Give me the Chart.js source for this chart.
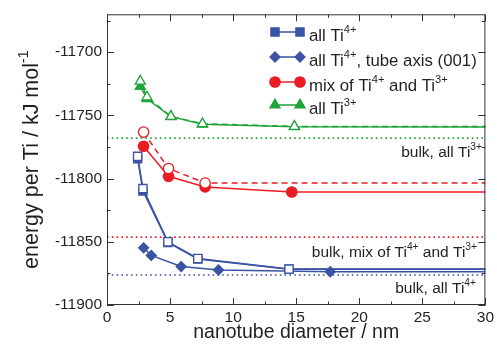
<!DOCTYPE html>
<html><head><meta charset="utf-8">
<script src="https://cdn.jsdelivr.net/npm/chart.js@4/dist/chart.umd.min.js"></script>
<style>html,body{margin:0;padding:0;background:#fff}#wrap{width:497px;height:347px}</style>
</head><body><div id="wrap"><canvas id="c" width="497" height="347"></canvas></div>
<script>
// ---- data ----
const xTicks = [0, 5, 10, 15, 20, 25, 30];
const yTicks = [-11900, -11850, -11800, -11750, -11700];

const blueSqX = [2.43, 2.85, 4.83, 7.2, 14.43, 40];
const blueSqFilledY = [-11784.2, -11809.8, -11850.5, -11863.6, -11871.8, -11871.8];
const blueSqOpenY   = [-11782.4, -11807.9, -11850.0, -11863.2, -11871.6, -11871.6];

const blueDiaX = [2.9, 3.51, 5.88, 8.84, 17.7, 40];
const blueDiaY = [-11854.8, -11860.8, -11869.6, -11872.3, -11873.7, -11873.7];

const redFilledX = [2.9, 4.88, 7.78, 14.65, 40];
const redFilledY = [-11774.4, -11798.2, -11806.6, -11810.6, -11810.6];
const redOpenX = [2.9, 4.88, 7.78, 40];
const redOpenY = [-11763.2, -11792.0, -11803.5, -11803.5];

const greenX = [2.64, 3.17, 5.07, 7.57, 14.86, 40];
const greenFilledY = [-11727.0, -11736.8, -11751.0, -11757.0, -11759.0, -11759.2];
const greenOpenY   = [-11722.9, -11735.5, -11750.8, -11756.6, -11758.7, -11758.9];

const bulkX = [0, 30];
const bulkTi3 = -11768;
const bulkMix = -11846.3;
const bulkTi4 = -11876.3;

const legendLabels = [
  [["all Ti",0],["4+",1]],
  [["all Ti",0],["4+",1],[", tube axis (001)",0]],
  [["mix of Ti",0],["4+",1],[" and Ti",0],["3+",1]],
  [["all Ti",0],["3+",1]]
];
const bulkLabels = [
  [["bulk, all Ti",0],["3+",1]],
  [["bulk, mix of Ti",0],["4+",1],[" and Ti",0],["3+",1]],
  [["bulk, all Ti",0],["4+",1]]
];
const xTitle = "nanotube diameter / nm";
const yTitle = [["energy per Ti / kJ mol",0],["-1",1]];

// ---- styles ----
const BLUE = '#3a53a4', RED = '#ec1c24', GREEN = '#1fa33a', TXT = '#231f20';
const FONT = '"Liberation Sans", Arial, Helvetica, sans-serif';

const pts = (xs, ys) => xs.map((x, i) => ({x, y: ys[i]}));
const hideOut = r => c => (c.raw && c.raw.x > 30 ? 0 : r);

function series(xs, ys, color, style, r, open, dash) {
  return {
    data: pts(xs, ys),
    borderColor: color, backgroundColor: open ? '#fff' : color,
    pointBackgroundColor: open ? '#fff' : color, pointBorderColor: color,
    pointStyle: style, pointRadius: hideOut(r), pointBorderWidth: 1.3,
    borderWidth: 1.5, borderDash: dash || [], tension: 0, fill: false
  };
}
function bulk(v, color) {
  return {
    data: pts(bulkX, [v, v]), borderColor: color, borderWidth: 1.6,
    borderDash: [1.6, 3.2], pointRadius: 0, fill: false
  };
}

function drawRich(ctx, parts, x, y, align, size) {
  const supSize = size * 0.66;
  let w = 0;
  parts.forEach(([t, s]) => { ctx.font = (s ? supSize : size) + 'px ' + FONT; w += ctx.measureText(t).width; });
  let cx = align === 'right' ? x - w : align === 'center' ? x - w / 2 : x;
  ctx.textAlign = 'left'; ctx.textBaseline = 'alphabetic';
  parts.forEach(([t, s]) => {
    ctx.font = (s ? supSize : size) + 'px ' + FONT;
    ctx.fillText(t, cx, s ? y - size * 0.47 : y);
    cx += ctx.measureText(t).width;
  });
}

function marker(ctx, style, x, y, r, color, open) {
  ctx.save();
  ctx.fillStyle = open ? '#fff' : color; ctx.strokeStyle = color; ctx.lineWidth = 1.3;
  ctx.beginPath();
  if (style === 'rect') { const s = r * Math.SQRT1_2; ctx.rect(x - s, y - s, 2 * s, 2 * s); }
  else if (style === 'rectRot') { ctx.moveTo(x, y - r); ctx.lineTo(x + r, y); ctx.lineTo(x, y + r); ctx.lineTo(x - r, y); ctx.closePath(); }
  else if (style === 'circle') { ctx.arc(x, y, r, 0, Math.PI * 2); }
  else if (style === 'triangle') { ctx.moveTo(x, y - r); ctx.lineTo(x + r * 0.866, y + r * 0.5); ctx.lineTo(x - r * 0.866, y + r * 0.5); ctx.closePath(); }
  ctx.fill(); ctx.stroke();
  ctx.restore();
}

const decor = {
  id: 'decor',
  afterDraw(chart) {
    const ctx = chart.ctx, a = chart.chartArea;
    const xs = chart.scales.x, ys = chart.scales.y;
    ctx.save();
    // frame
    ctx.strokeStyle = '#333'; ctx.lineWidth = 1;
    ctx.strokeRect(a.left + 0.5, a.top + 0.5, a.right - a.left - 1, a.bottom - a.top - 1);
    // ticks
    ctx.beginPath();
    for (let v = 0; v <= 30; v += 2.5) {
      const px = Math.round(xs.getPixelForValue(v)) + 0.5;
      const L = (v % 5 === 0) ? 7 : 3.5;
      ctx.moveTo(px, a.bottom); ctx.lineTo(px, a.bottom - L);
      ctx.moveTo(px, a.top); ctx.lineTo(px, a.top + L);
    }
    for (let v = -11900; v <= -11670; v += 25) {
      const py = Math.round(ys.getPixelForValue(v)) + 0.5;
      const L = (v % 50 === 0) ? 7 : 3.5;
      ctx.moveTo(a.left, py); ctx.lineTo(a.left + L, py);
      ctx.moveTo(a.right, py); ctx.lineTo(a.right - L, py);
    }
    ctx.stroke();

    ctx.fillStyle = TXT;
    // axis titles
    ctx.font = '19.5px ' + FONT; ctx.textAlign = 'center'; ctx.textBaseline = 'alphabetic';
    ctx.fillText(xTitle, (a.left + a.right) / 2, 338);
    ctx.save();
    ctx.translate(38, (a.top + a.bottom) / 2);
    ctx.rotate(-Math.PI / 2);
    drawRich(ctx, yTitle, 0, 0, 'center', 21.5);
    ctx.restore();

    // legend
    const legSty = [['rect', BLUE], ['rectRot', BLUE], ['circle', RED], ['triangle', GREEN]];
    const legY = [32, 57, 82, 105];
    const legR = [5.8, 5, 5.2, 5.8];
    legSty.forEach(([st, col], i) => {
      const y = legY[i];
      ctx.strokeStyle = col; ctx.lineWidth = 1.5; ctx.setLineDash([]);
      ctx.beginPath(); ctx.moveTo(275, y); ctx.lineTo(300, y); ctx.stroke();
      marker(ctx, st, 275, y, legR[i], col, false);
      marker(ctx, st, 300, y, legR[i], col, false);
      ctx.fillStyle = TXT;
      drawRich(ctx, legendLabels[i], 309, y + 8.5, 'left', 16.8);
    });

    // bulk labels
    ctx.fillStyle = TXT;
    drawRich(ctx, bulkLabels[0], 482, 157, 'right', 15.5);
    drawRich(ctx, bulkLabels[1], 477, 257, 'right', 15.5);
    drawRich(ctx, bulkLabels[2], 476, 293, 'right', 15.5);
    ctx.restore();
  }
};

new Chart(document.getElementById('c'), {
  type: 'line',
  data: {
    datasets: [
      series(blueSqX, blueSqOpenY, BLUE, 'rect', 5.8, true),
      series(blueSqX, blueSqFilledY, BLUE, 'rect', 5.8, false),
      series(blueDiaX, blueDiaY, BLUE, 'rectRot', 5, false),
      series(redOpenX, redOpenY, RED, 'circle', 5.2, true, [6, 4]),
      series(redFilledX, redFilledY, RED, 'circle', 5.2, false),
      series(greenX, greenOpenY, GREEN, 'triangle', 5.8, true, [6, 4]),
      series(greenX, greenFilledY, GREEN, 'triangle', 5.8, false),
      bulk(bulkTi3, GREEN), bulk(bulkMix, RED), bulk(bulkTi4, BLUE)
    ]
  },
  options: {
    responsive: false, animation: false, devicePixelRatio: 1,
    layout: { padding: { top: 13, right: 11, left: 0, bottom: 0 } },
    plugins: { legend: { display: false }, tooltip: { enabled: false } },
    scales: {
      x: {
        type: 'linear', min: 0, max: 30,
        afterBuildTicks: s => { s.ticks = xTicks.map(v => ({value: v})); },
        afterFit: s => { s.height = 42; },
        grid: { display: false, drawTicks: false, tickLength: 0 }, border: { display: false },
        ticks: { color: TXT, font: { family: FONT, size: 15.5 }, padding: 3, maxRotation: 0,
                 callback: v => String(v) }
      },
      y: {
        type: 'linear', min: -11900, max: -11670,
        afterBuildTicks: s => { s.ticks = yTicks.map(v => ({value: v})); },
        afterFit: s => { s.width = 107; },
        grid: { display: false, drawTicks: false, tickLength: 0 }, border: { display: false },
        ticks: { color: TXT, font: { family: FONT, size: 15.5 }, padding: 5,
                 callback: v => String(v) }
      }
    }
  },
  plugins: [decor]
});
</script>
</body></html>
